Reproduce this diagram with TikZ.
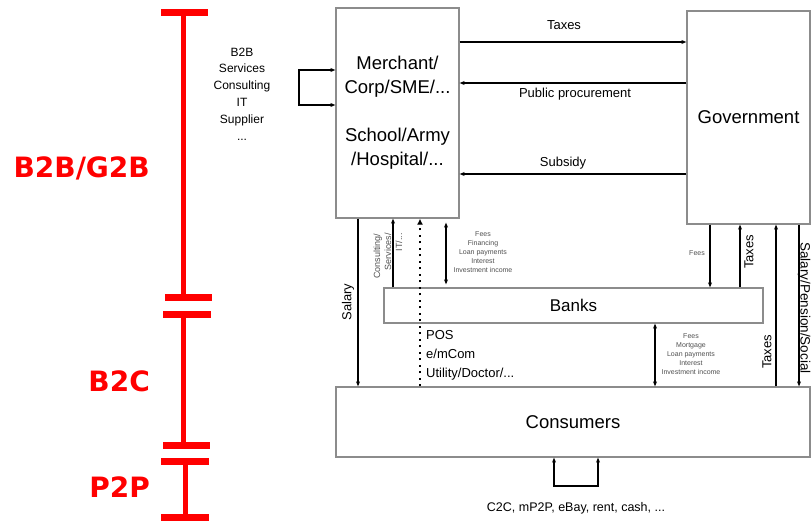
\documentclass[tikz,border=0pt]{standalone}
\usepackage{fontspec}
\setmainfont{Liberation Sans}
\newfontfamily\segfont{DejaVu Sans}
\usepackage{xcolor}
\definecolor{cBox}{HTML}{8C8C8C}
\definecolor{cSeg}{HTML}{FF0000}
\definecolor{cNote}{HTML}{505050}
\usetikzlibrary{positioning,arrows.meta,calc}
\tikzset{
  party/.style={draw=cBox,line width=1.3pt,inner sep=0pt,align=center,
    font=\fontsize{18.5}{24}\selectfont},
  flow/.style={-{Stealth[length=5pt,width=4pt]},line width=1.1pt},
  flow-both/.style={{Stealth[length=5pt,width=4pt]}-{Stealth[length=5pt,width=4pt]},line width=1.1pt},
  flow-card/.style={-{Latex[length=6pt,width=6pt]},line width=2.2pt,
    dash pattern=on 2pt off 4.5pt},
  lbl/.style={inner sep=0pt,align=center,font=\fontsize{13}{15}\selectfont},
  lbl-tiny/.style={inner sep=0pt,align=center,text=cNote,
    font=\fontsize{7}{9}\selectfont},
  seg-bar/.style={draw=cSeg,line width=5pt},
  seg-cap/.style={draw=cSeg,line width=7pt},
  seg-name/.style={inner sep=0pt,anchor=east,text=cSeg,
    font=\segfont\bfseries\fontsize{28}{30}\selectfont},
}
\begin{document}
\begin{tikzpicture}[x=1pt,y=-1pt]
  \useasboundingbox (0,0) rectangle (811,522);

  % market segments on the left
  \draw[seg-bar] (183,12) -- (183,297);
  \draw[seg-cap] (161,12) -- (208,12);
  \draw[seg-cap] (165,297) -- (212,297);
  \draw[seg-bar] (183,314) -- (183,445);
  \draw[seg-cap] (163,314) -- (211,314);
  \draw[seg-cap] (163,445) -- (210,445);
  \draw[seg-bar] (185,461) -- (185,517);
  \draw[seg-cap] (161,461) -- (209,461);
  \draw[seg-cap] (161,517) -- (209,517);
  \node[seg-name] (b2b) at (150,168) {B2B/G2B};
  \node[seg-name] (b2c) at (150,381) {B2C};
  \node[seg-name] (p2p) at (150,487) {P2P};

  % parties
  \node[party,minimum width=123pt,minimum height=210pt] (merchant) at (397.5,113)
    {Merchant/\\Corp/SME/...\\[24pt]School/Army\\/Hospital/...};
  \node[party,minimum width=123pt,minimum height=213pt] (gov) at (748.5,117.5)
    {Government};
  \node[party,minimum width=379pt,minimum height=35pt,
    font=\fontsize{17}{20}\selectfont] (banks) at (573.5,305.5) {Banks};
  \node[party,minimum width=474pt,minimum height=70pt] (consumers) at (573,422)
    {Consumers};

  % merchant <-> government
  \draw[flow] (merchant.east |- 0,42) -- (gov.west |- 0,42);
  \draw[flow] (gov.west |- 0,83) -- (merchant.east |- 0,83);
  \draw[flow] (gov.west |- 0,174) -- (merchant.east |- 0,174);
  \node[lbl] (taxesTop) at (564,25) {Taxes};
  \node[lbl] (procure) at (575,94) {Public procurement};
  \node[lbl] (subsidy) at (563,163) {Subsidy};

  % B2B loop
  \coordinate (b2bLoop) at (299,87.5);
  \draw[flow] (b2bLoop) |- (merchant.west |- 0,70);
  \draw[flow] (b2bLoop) |- (merchant.west |- 0,105);
  \node[lbl,font=\fontsize{12}{16.8}\selectfont] (b2bList) at (242,94)
    {B2B\\Services\\Consulting\\IT\\Supplier\\...};

  % merchant <-> banks / consumers
  \draw[flow] (merchant.south -| 358,0) -- (consumers.north -| 358,0);
  \node[lbl,rotate=90] (salary) at (348,302) {Salary};
  \draw[flow] (banks.north -| 393,0) -- (merchant.south -| 393,0);
  \node[lbl-tiny,rotate=90,align=right,font=\fontsize{9}{11}\selectfont]
    (consult) at (388,256) {Consulting/\\Services/\\IT/...};
  \draw[flow-card] (consumers.north -| 420,0) -- (merchant.south -| 420,0);
  \node[lbl,align=left,anchor=west,font=\fontsize{13}{19}\selectfont] (pos)
    at (426,355) {POS\\e/mCom\\Utility/Doctor/...};
  \draw[flow-both,shorten <=4pt,shorten >=3pt] (merchant.south -| 446,0)
    -- (banks.north -| 446,0);
  \node[lbl-tiny] (bankFeesB) at (483,252)
    {Fees\\Financing\\Loan payments\\Interest\\Investment income};

  % government <-> banks / consumers
  \draw[flow] (gov.south -| 710,0) -- (banks.north -| 710,0);
  \node[lbl-tiny] (govFees) at (697,253) {Fees};
  \draw[flow] (banks.north -| 740,0) -- (gov.south -| 740,0);
  \node[lbl,rotate=90] (taxesBank) at (749,252) {Taxes};
  \draw[flow] (consumers.north -| 776,0) -- (gov.south -| 776,0);
  \node[lbl,rotate=90] (taxesCons) at (767,352) {Taxes};
  \draw[flow] (gov.south -| 799,0) -- (consumers.north -| 799,0);
  \node[lbl,rotate=-90,font=\fontsize{13.5}{15}\selectfont] (social)
    at (804,308) {Salary/Pension/Social};

  % banks <-> consumers
  \draw[flow-both] (banks.south -| 655,0) -- (consumers.north -| 655,0);
  \node[lbl-tiny] (bankFeesC) at (691,354)
    {Fees\\Mortgage\\Loan payments\\Interest\\Investment income};

  % P2P loop
  \coordinate (p2pLoop) at (576,486);
  \draw[flow] (p2pLoop) -| (consumers.south -| 554,0);
  \draw[flow] (p2pLoop) -| (consumers.south -| 598,0);
  \node[lbl,font=\fontsize{12.5}{15}\selectfont] (p2pList) at (576,508)
    {C2C, mP2P, eBay, rent, cash, ...};
\end{tikzpicture}
\end{document}
